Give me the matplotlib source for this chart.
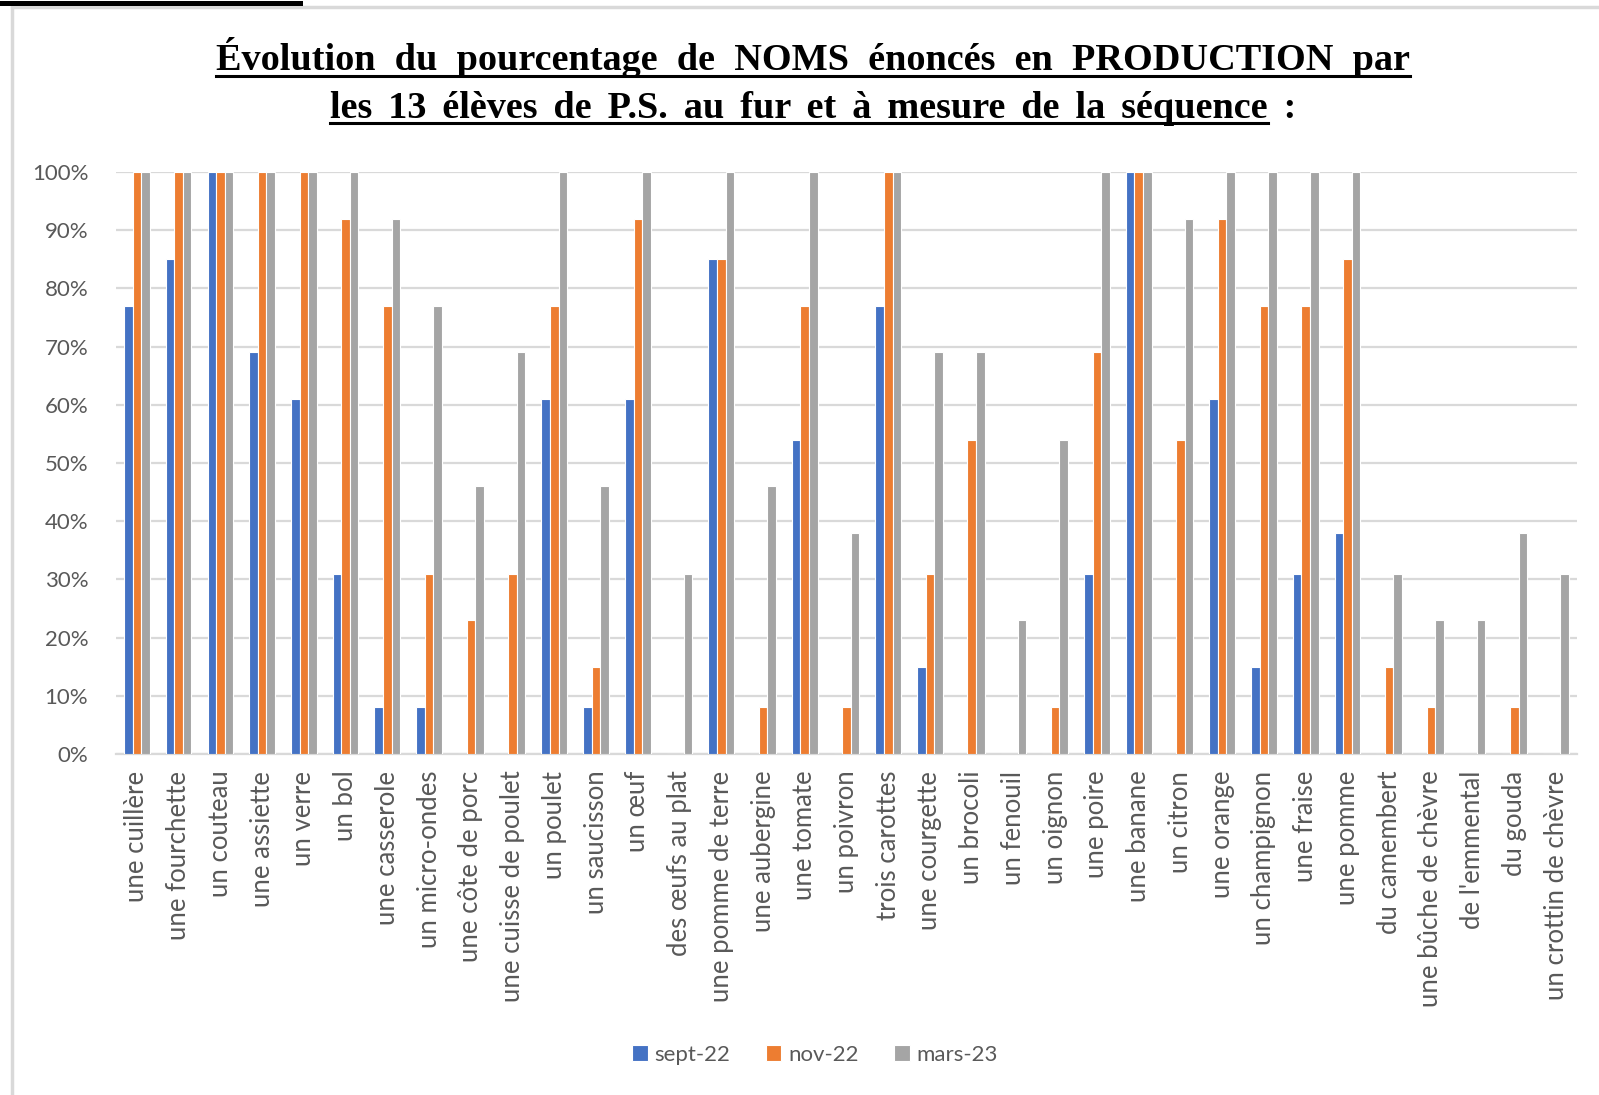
import numpy as np
import matplotlib
matplotlib.use("Agg")
import matplotlib.pyplot as plt
from matplotlib.lines import Line2D
from matplotlib.ticker import PercentFormatter

categories = [
    "une cuillère", "une fourchette", "un couteau", "une assiette", "un verre",
    "un bol", "une casserole", "un micro-ondes", "une côte de porc",
    "une cuisse de poulet", "un poulet", "un saucisson", "un œuf",
    "des œufs au plat", "une pomme de terre", "une aubergine", "une tomate",
    "un poivron", "trois carottes", "une courgette", "un brocoli", "un fenouil",
    "un oignon", "une poire", "une banane", "un citron", "une orange",
    "un champignon", "une fraise", "une pomme", "du camembert",
    "une bûche de chèvre", "de l'emmental", "du gouda", "un crottin de chèvre",
]
sept22 = [77, 85, 100, 69, 61, 31, 8, 8, 0, 0, 61, 8, 61, 0, 85, 0, 54, 0, 77,
          15, 0, 0, 0, 31, 100, 0, 61, 15, 31, 38, 0, 0, 0, 0, 0]
nov22 = [100, 100, 100, 100, 100, 92, 77, 31, 23, 31, 77, 15, 92, 0, 85, 8, 77,
         8, 100, 31, 54, 0, 8, 69, 100, 54, 92, 77, 77, 85, 15, 8, 0, 8, 0]
mars23 = [100, 100, 100, 100, 100, 100, 92, 77, 46, 69, 100, 46, 100, 31, 100,
          46, 100, 38, 100, 69, 69, 23, 54, 100, 100, 92, 100, 100, 100, 100,
          31, 23, 23, 38, 31]
series = [("sept-22", sept22, "#4472C4"),
          ("nov-22", nov22, "#ED7D31"),
          ("mars-23", mars23, "#A5A5A5")]

W, H = 1599, 1095
fig = plt.figure(figsize=(W / 100, H / 100), dpi=100)
ax = fig.add_axes([116 / W, 1 - 754 / H, (1577 - 116) / W, (754 - 172) / H])

x = np.arange(len(categories))
bw = 0.205
for i, (name, vals, col) in enumerate(series):
    ax.bar(x + (i - 1) * bw, vals, width=bw, color=col, edgecolor="white",
           linewidth=0.8, label=name, zorder=3)

ax.set_xlim(-0.5, len(categories) - 0.5)
ax.set_ylim(0, 100)
ax.set_yticks(np.arange(0, 101, 10))
ax.yaxis.set_major_formatter(PercentFormatter(decimals=0))
ax.grid(axis="y", color="#d9d9d9", linewidth=1.6, zorder=0)
for s in ["top", "right", "left"]:
    ax.spines[s].set_visible(False)
ax.spines["bottom"].set_color("#d9d9d9")
ax.spines["bottom"].set_linewidth(1.6)
ax.tick_params(length=0)
ax.tick_params(axis="y", pad=20, labelsize=16, labelcolor="#595959")
ax.set_xticks(x)
ax.set_xticklabels(categories, rotation=90, fontsize=18.5, color="#595959",
                   va="top", ha="center")
ax.tick_params(axis="x", pad=12)
for lab in ax.get_xticklabels() + ax.get_yticklabels():
    lab.set_family("Lato")

leg = ax.legend(loc="center", bbox_to_anchor=(815 / W, 1 - 1055 / H),
                bbox_transform=fig.transFigure, ncol=3, frameon=False,
                prop={"family": "Lato", "size": 16}, handlelength=0.7,
                handleheight=0.7, handletextpad=0.3, columnspacing=1.6)
for t in leg.get_texts():
    t.set_color("#595959")

# title with underline (wide word spacing as in the original)
tfont = dict(family=["Liberation Serif", "DejaVu Serif"], weight="bold",
             size=27.5, color="black")
line1 = "Évolution  du  pourcentage  de  NOMS  énoncés  en  PRODUCTION  par"
part2 = " \u2006".join("les 13 élèves de P.S. au fur et à mesure de la séquence".split(" "))
suffix = " \u2006:"
t1 = fig.text(813 / W, 1 - 58 / H, line1, ha="center", va="center", **tfont)
t2 = fig.text(813 / W, 1 - 108 / H, part2 + suffix, ha="center", va="center", **tfont)
fig.canvas.draw()
r = fig.canvas.get_renderer()
tmp = fig.text(0, 0, suffix, **tfont)
suf_w = tmp.get_window_extent(r).width
tmp.remove()
b1 = t1.get_window_extent(r)
b2 = t2.get_window_extent(r)
for bb, x1 in [(b1, b1.x1), (b2, b2.x1 - suf_w)]:
    yy = bb.y0 + 3
    fig.add_artist(Line2D([bb.x0 / W, x1 / W], [yy / H, yy / H], color="black",
                          linewidth=2.2))

# page frame and stray underline from the document above
fig.add_artist(Line2D([12 / W, 12 / W], [0, 1 - 7 / H], color="#d9d9d9", linewidth=2.5))
fig.add_artist(Line2D([12 / W, 1], [1 - 7 / H, 1 - 7 / H], color="#d9d9d9", linewidth=2.5))
fig.add_artist(Line2D([0, 300 / W], [1 - 2.5 / H, 1 - 2.5 / H], color="black", linewidth=3.6))

fig.savefig("out.png", dpi=100)
